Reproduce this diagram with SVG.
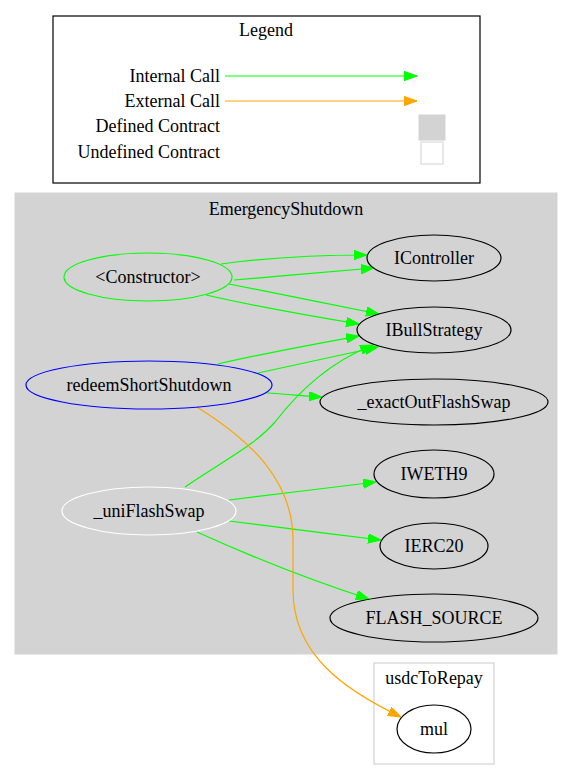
<svg xmlns="http://www.w3.org/2000/svg" width="573" height="780" viewBox="0 0 573 780">
<style>
text{font-family:"Liberation Serif","Times New Roman",serif;font-size:18px;fill:#000}
.m{text-anchor:middle}
.r{text-anchor:end}
.n{fill:none;stroke:#000;stroke-width:1.2}
.g{fill:none;stroke:#00ff00;stroke-width:1.2}
.o{fill:none;stroke:#ffa500;stroke-width:1.2}
</style>
<defs>
<marker id="ag" markerUnits="userSpaceOnUse" markerWidth="14" markerHeight="10" refX="13" refY="4.7" orient="auto"><path d="M0,0 L13,4.7 L0,9.4 z" fill="#00ff00" stroke="#00ff00"/></marker>
<marker id="ao" markerUnits="userSpaceOnUse" markerWidth="14" markerHeight="10" refX="13" refY="4.7" orient="auto"><path d="M0,0 L13,4.7 L0,9.4 z" fill="#ffa500" stroke="#ffa500"/></marker>
</defs>
<rect width="573" height="780" fill="#fff"/>
<g id="legend">
<rect x="53" y="16" width="427" height="167" fill="#fff" stroke="#000" stroke-width="1.2"/>
<text class="m" x="266" y="36">Legend</text>
<text class="r" x="220" y="82">Internal Call</text>
<text class="r" x="220" y="107">External Call</text>
<text class="r" x="220" y="132">Defined Contract</text>
<text class="r" x="220" y="158">Undefined Contract</text>
<path class="g" d="M225,76 L417,76" marker-end="url(#ag)"/>
<path class="o" d="M225,101 L417,101" marker-end="url(#ao)"/>
<rect x="419" y="115" width="26" height="25" fill="#d3d3d3" stroke="#d3d3d3"/>
<rect x="421" y="142" width="22" height="22" fill="#fff" stroke="#d3d3d3"/>
</g>
<g id="cluster_EmergencyShutdown">
<rect x="15" y="193" width="542" height="461" fill="#d3d3d3" stroke="#d3d3d3"/>
<text class="m" x="286" y="215">EmergencyShutdown</text>
</g>
<g id="cluster_usdcToRepay">
<rect x="374" y="663" width="120" height="101" fill="#fff" stroke="#d3d3d3" stroke-width="1.2"/>
<text class="m" x="434" y="684">usdcToRepay</text>
</g>
<g id="edges">
<path class="g" d="M221,264 C265,258 320,255 367,255" marker-end="url(#ag)"/>
<path class="g" d="M234,280 C280,276 330,272 374,268" marker-end="url(#ag)"/>
<path class="g" d="M229,284 C275,293 330,304 379,314" marker-end="url(#ag)"/>
<path class="g" d="M206,295 C250,305 310,316 359,324" marker-end="url(#ag)"/>
<path class="g" d="M218,364 C265,353 315,344 359,336" marker-end="url(#ag)"/>
<path class="g" d="M258,373 C300,364 340,355 378,347" marker-end="url(#ag)"/>
<path class="g" d="M267,393 C285,394 305,396 322,397" marker-end="url(#ag)"/>
<path class="g" d="M185,487 C225,460 255,445 275,422 C300,390 330,362 373,345" marker-end="url(#ag)"/>
<path class="g" d="M229,500 C275,494 330,488 376,482" marker-end="url(#ag)"/>
<path class="g" d="M229,521 C275,527 330,534 381,540" marker-end="url(#ag)"/>
<path class="g" d="M197,532 C250,556 310,580 369,599" marker-end="url(#ag)"/>
<path class="o" d="M197,407 C250,440 293,480 293,540 L293,590 C293,655 345,690 401,717" marker-end="url(#ao)"/>
</g>
<g id="node_constructor">
<ellipse cx="148" cy="277" rx="84" ry="24" fill="none" stroke="#00ff00" stroke-width="1.2"/>
<text class="m" x="148" y="283">&lt;Constructor&gt;</text>
</g>
<g id="node_IController">
<ellipse class="n" cx="434" cy="258" rx="67" ry="23"/>
<text class="m" x="434" y="264">IController</text>
</g>
<g id="node_IBullStrategy">
<ellipse class="n" cx="434" cy="330" rx="77" ry="23"/>
<text class="m" x="434" y="336">IBullStrategy</text>
</g>
<g id="node_redeemShortShutdown">
<ellipse cx="149" cy="385" rx="123" ry="24" fill="none" stroke="#0000ff" stroke-width="1.2"/>
<text class="m" x="149" y="391">redeemShortShutdown</text>
</g>
<g id="node_exactOutFlashSwap">
<ellipse class="n" cx="434" cy="402" rx="114" ry="23"/>
<text class="m" x="434" y="408">_exactOutFlashSwap</text>
</g>
<g id="node_IWETH9">
<ellipse class="n" cx="434" cy="474" rx="60" ry="24"/>
<text class="m" x="434" y="480">IWETH9</text>
</g>
<g id="node_uniFlashSwap">
<ellipse cx="149" cy="511" rx="87" ry="24" fill="none" stroke="#ffffff" stroke-width="1.2"/>
<text class="m" x="149" y="517">_uniFlashSwap</text>
</g>
<g id="node_IERC20">
<ellipse class="n" cx="434" cy="546" rx="54" ry="23"/>
<text class="m" x="434" y="552">IERC20</text>
</g>
<g id="node_FLASH_SOURCE">
<ellipse class="n" cx="434" cy="618" rx="104" ry="24"/>
<text class="m" x="434" y="624">FLASH_SOURCE</text>
</g>
<g id="node_mul">
<ellipse class="n" cx="434" cy="729" rx="37" ry="24"/>
<text class="m" x="434" y="735">mul</text>
</g>
</svg>
